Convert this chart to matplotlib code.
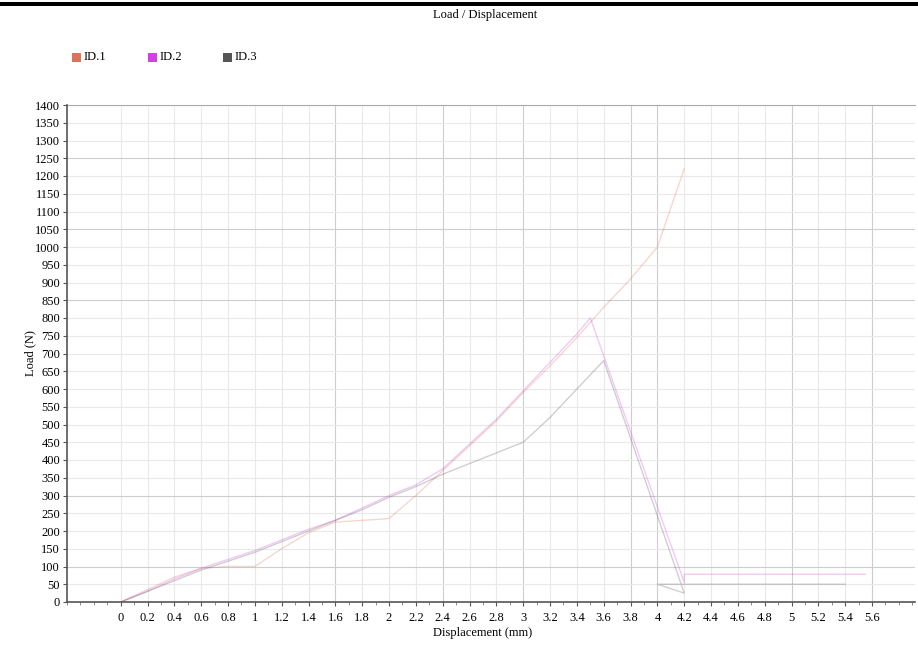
import numpy as np
import matplotlib
matplotlib.use('Agg')
import matplotlib.pyplot as plt
from matplotlib.patches import Rectangle

# --- data
id1_x = [0, 0.2, 0.4, 0.6, 0.8, 1.0, 1.2, 1.4, 1.6, 1.8, 2.0, 2.2, 2.4, 2.6, 2.8, 3.0, 3.2, 3.4, 3.6, 3.8, 4.0, 4.2]
id1_y = [0, 35, 70, 95, 100, 100, 150, 195, 225, 230, 235, 300, 370, 440, 510, 590, 665, 745, 830, 910, 1000, 1220]

id2_x = [0, 0.2, 0.4, 0.6, 0.8, 1.0, 1.2, 1.4, 1.6, 1.8, 2.0, 2.2, 2.4, 2.6, 2.8, 3.0, 3.2, 3.4, 3.5, 4.2, 4.2, 5.55]
id2_y = [0, 30, 65, 95, 120, 145, 175, 205, 230, 265, 300, 330, 375, 445, 515, 595, 675, 755, 800, 55, 78, 78]

id3_x = [0, 0.2, 0.4, 0.6, 0.8, 1.0, 1.2, 1.4, 1.6, 1.8, 2.0, 2.2, 2.4, 2.6, 2.8, 3.0, 3.2, 3.4, 3.6, 4.2, 4.0, 5.4]
id3_y = [0, 30, 60, 90, 115, 140, 170, 200, 230, 260, 295, 325, 360, 390, 420, 450, 520, 600, 680, 25, 50, 50]

labels = ['ID.1', 'ID.2', 'ID.3']
colors = ['#d9735a', '#cc44dd', '#555555']

x_ticks = np.round(np.arange(0, 5.61, 0.2), 1)
y_ticks = np.arange(0, 1401, 50)

plt.rcParams['font.family'] = ['Liberation Serif', 'DejaVu Serif']
fs = 9

W, H = 918, 645
fig = plt.figure(figsize=(W / 100, H / 100), dpi=100)
ax = fig.add_axes([67 / W, 1 - 602 / H, (915 - 67) / W, (602 - 105) / H])

# gridlines, a few look darker in the original
dark_x = [1.6, 2.4, 3.0, 3.8, 4.0, 5.0, 5.6]
dark_y = [100, 300, 850, 1050, 1250]
for xv in x_ticks:
    c = '#cdcdcd' if xv in dark_x else '#e9e9e9'
    ax.axvline(xv, color=c, lw=0.8, zorder=0)
for yv in y_ticks[1:]:
    c = '#cdcdcd' if yv in dark_y else '#e9e9e9'
    ax.axhline(yv, color=c, lw=0.8, zorder=0)

for xs, ys, col in zip([id1_x, id2_x, id3_x], [id1_y, id2_y, id3_y], colors):
    ax.plot(xs, ys, color=col, lw=1.0, alpha=0.28, zorder=2)

ax.set_xlim(-0.4, 5.92)
ax.set_ylim(0, 1400)
ax.set_xticks(x_ticks)
ax.set_xticklabels([('%g' % v) for v in x_ticks], fontsize=fs)
ax.set_yticks(y_ticks)
ax.set_yticklabels([str(v) for v in y_ticks], fontsize=fs)
ax.set_xticks(np.arange(-0.4, 5.9, 0.1), minor=True)
ax.tick_params(axis='both', length=3, width=0.8, color='#555555', pad=2)
ax.tick_params(axis='x', which='minor', length=2, width=0.6, color='#777777')
ax.tick_params(axis='x', pad=4)

for s in ['top', 'right']:
    ax.spines[s].set_visible(False)
for s in ['left', 'bottom']:
    ax.spines[s].set_color('#555555')
    ax.spines[s].set_linewidth(1.2)
ax.plot([-0.4, 5.92], [1400, 1400], color='#aaaaaa', lw=0.8, clip_on=False)

fig.text(483 / W, 1 - 633 / H, 'Displacement (mm)', ha='center', va='center', fontsize=fs)
fig.text(30 / W, 1 - 353 / H, 'Load (N)', ha='center', va='center', rotation=90, fontsize=fs)
fig.text(485 / W, 1 - 15 / H, 'Load / Displacement', ha='center', va='center', fontsize=fs)

# legend boxes
for lx, lab, col in zip([72, 148, 223], labels, colors):
    fig.patches.append(Rectangle((lx / W, 1 - 62 / H), 9 / W, 9 / H, transform=fig.transFigure,
                                 facecolor=col, edgecolor='none'))
    fig.text((lx + 12) / W, 1 - 57.5 / H, lab, ha='left', va='center', fontsize=fs)

# black bar across the top
fig.patches.append(Rectangle((0, 1 - 6 / H), 1, 4 / H, transform=fig.transFigure,
                             facecolor='black', edgecolor='none'))

fig.savefig('out.png', dpi=100)
